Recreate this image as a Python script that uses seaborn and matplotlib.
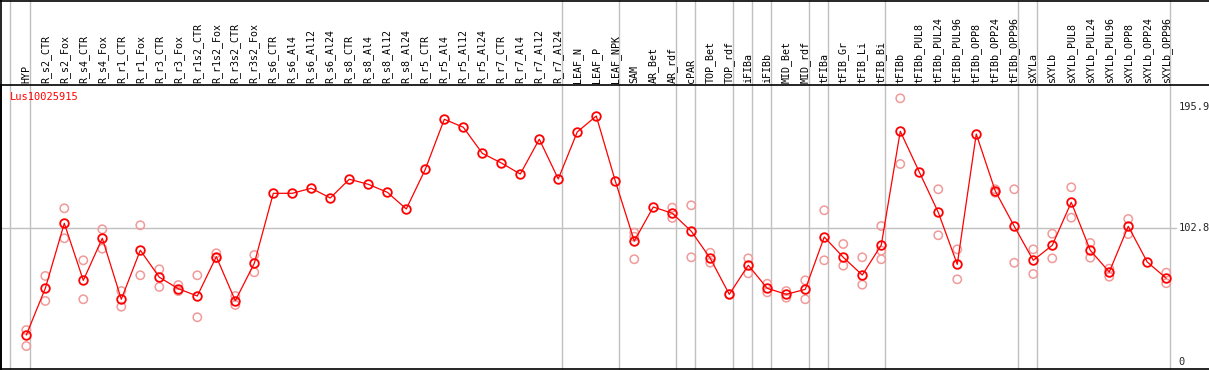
import pandas as pd
import matplotlib
matplotlib.use("Agg")
import matplotlib.pyplot as plt
import seaborn as sns

# Sample labels (header)
samples = ["HYP", "R_s2_CTR", "R_s2_Fox", "R_s4_CTR", "R_s4_Fox", "R_r1_CTR", "R_r1_Fox",
           "R_r3_CTR", "R_r3_Fox", "R_r1s2_CTR", "R_r1s2_Fox", "R_r3s2_CTR", "R_r3s2_Fox",
           "R_s6_CTR", "R_s6_Al4", "R_s6_Al12", "R_s6_Al24", "R_s8_CTR", "R_s8_Al4",
           "R_s8_Al12", "R_s8_Al24", "R_r5_CTR", "R_r5_Al4", "R_r5_Al12", "R_r5_Al24",
           "R_r7_CTR", "R_r7_Al4", "R_r7_Al12", "R_r7_Al24", "LEAF_N", "LEAF_P", "LEAF_NPK",
           "SAM", "AR_Bet", "AR_rdf", "cPAR", "TOP_Bet", "TOP_rdf", "iFIBa", "iFIBb",
           "MID_Bet", "MID_rdf", "tFIBa", "tFIB_Gr", "tFIB_Li", "tFIB_Bi", "tFIBb",
           "tFIBb_PUL8", "tFIBb_PUL24", "tFIBb_PUL96", "tFIBb_OPP8", "tFIBb_OPP24",
           "tFIBb_OPP96", "sXYLa", "sXYLb", "sXYLb_PUL8", "sXYLb_PUL24", "sXYLb_PUL96",
           "sXYLb_OPP8", "sXYLb_OPP24", "sXYLb_OPP96"]

# Mean expression per sample
means = [20.9, 56.7, 106.6, 62.8, 95.1, 48.3, 85.9, 65.2, 56.4, 50.8, 81.0, 47.2, 75.9,
         129.6, 129.6, 133.5, 126.0, 140.4, 136.5, 130.4, 117.6, 148.0, 186.4, 180.3,
         160.3, 152.9, 144.4, 171.1, 140.6, 176.7, 188.9, 139.1,
         93.0, 119.1, 114.3, 100.5, 79.7, 52.1, 74.4, 56.7, 52.1, 55.9, 96.1, 80.5,
         66.9, 89.9, 177.2, 146.0, 115.0, 75.1, 175.1, 131.4, 104.3, 78.2, 89.7, 122.7,
         85.9, 69.2, 104.3, 76.9, 64.4]

# Replicate values per sample
replicates = [[24.7, 12.4], [66.2, 47.0], [118.1, 95.1], [78.2, 48.3], [102.0, 87.1],
              [54.6, 42.6], [105.1, 66.7], [71.3, 57.8], [59.2, 54.6], [66.7, 34.5],
              [83.6, 79.7], [50.8, 43.9], [82.3, 69.0],
              [], [], [], [], [], [], [], [], [], [], [], [], [], [], [], [], [], [], [],
              [99.4, 96.3, 79.0], [], [118.6, 110.7], [120.4, 80.5], [84.0, 76.4], [52.1],
              [79.7, 68.2], [60.2, 53.6], [54.6, 49.5], [62.8, 48.3], [116.6, 78.2],
              [90.7, 74.1], [80.5, 59.5], [104.5, 85.6, 79.0], [202.5, 152.1], [],
              [132.7, 97.4], [86.6, 63.6], [], [132.7, 130.0], [132.7, 76.3],
              [86.6, 67.7], [98.6, 79.7], [134.2, 110.9], [91.5, 80.2], [71.8, 65.6],
              [109.9, 98.3], [], [68.7, 60.6]]

# Index of last sample in each group (vertical separators)
group_ends = [0, 28, 31, 34, 35, 37, 38, 39, 41, 42, 45, 52, 53, 60]
ytick_vals = [0, 102.8, 195.9]
gene = "Lus10025915"

sns.set_style("white")
plt.rcParams['font.family'] = ['DejaVu Sans Mono']

idx = list(range(len(samples)))
rep_df = pd.DataFrame([(i, v) for i, vals in enumerate(replicates) for v in vals],
                      columns=["idx", "value"])

fig = plt.figure(figsize=(12.09, 3.70), dpi=100)
ax = fig.add_axes([1 / 1209, 1 / 370, 1208 / 1209, 284 / 370])
ax.set_xlim(-1.332, 62.25)
ax.set_ylim(-5.2, 212.7)

grey = "#c0c0c0"
ax.axvline(-0.858, color=grey, lw=1, ymin=0, ymax=369 / 284, clip_on=False, zorder=1)
for g in group_ends:
    ax.axvline(g + 0.21, color=grey, lw=1, ymin=0, ymax=369 / 284, clip_on=False, zorder=1)
ax.axhline(102.8, color=grey, lw=1, xmax=1175 / 1208, zorder=1)

sns.scatterplot(data=rep_df, x="idx", y="value", ax=ax, s=36, marker="o",
                facecolors="none", edgecolor="#f09a9a", linewidth=1.1, zorder=2)
sns.lineplot(x=idx, y=means, ax=ax, color="red", lw=0.9, marker="o", markersize=6.2,
             markerfacecolor="none", markeredgecolor="red", markeredgewidth=1.3, zorder=3)

for i, name in enumerate(samples):
    ax.text(i, 1.007, name, transform=ax.get_xaxis_transform(), rotation=90,
            ha="center", va="bottom", fontsize=7.2, color="black")

for v in ytick_vals:
    ax.text(60.63, v, str(v) if v else "0", ha="left", va="center", fontsize=7.5)

ax.text(-0.858, 203.5, gene, color="red", ha="left", va="center", fontsize=7.5)

ax.set_xticks([])
ax.set_yticks([])
ax.set_xlabel("")
ax.set_ylabel("")
for side in ["top", "bottom", "left"]:
    ax.spines[side].set_color("black")
    ax.spines[side].set_linewidth(1.2)
ax.spines["right"].set_visible(False)

fig.add_artist(plt.Line2D([0, 1], [1 - 0.6 / 370, 1 - 0.6 / 370], color="black", lw=1.2,
                          transform=fig.transFigure))
fig.add_artist(plt.Line2D([1 / 1209, 1 / 1209], [0, 1], color="black", lw=1.2,
                          transform=fig.transFigure))

fig.savefig("out.png", dpi=100)
